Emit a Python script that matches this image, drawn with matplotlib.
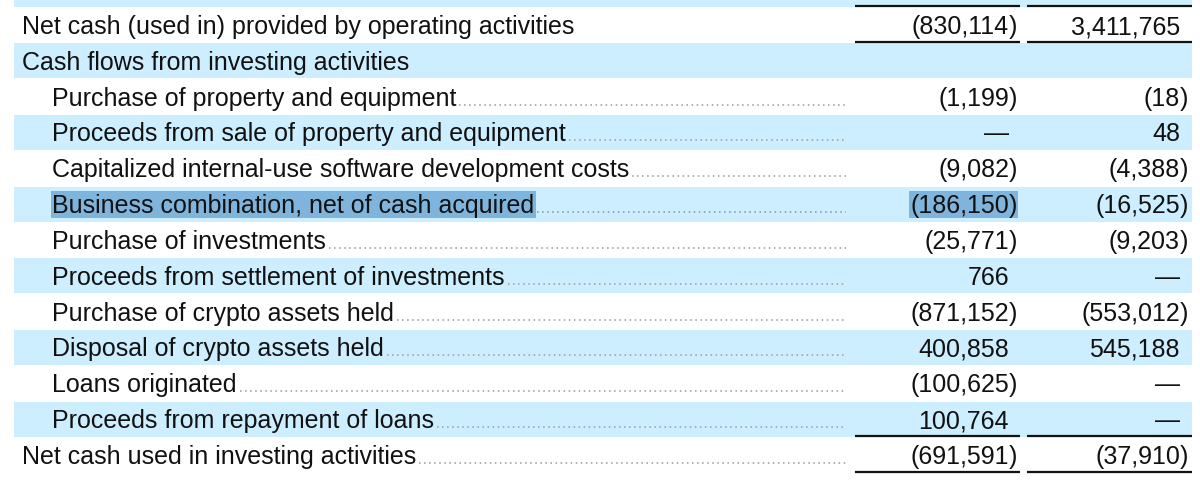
import matplotlib
matplotlib.use("Agg")

import matplotlib.pyplot as plt
from matplotlib.patches import Rectangle

plt.rcParams["font.family"] = ["Liberation Sans", "DejaVu Sans"]

labels = [
    "Net cash (used in) provided by operating activities",
    "Cash flows from investing activities",
    "Purchase of property and equipment",
    "Proceeds from sale of property and equipment",
    "Capitalized internal-use software development costs",
    "Business combination, net of cash acquired",
    "Purchase of investments",
    "Proceeds from settlement of investments",
    "Purchase of crypto assets held",
    "Disposal of crypto assets held",
    "Loans originated",
    "Proceeds from repayment of loans",
    "Net cash used in investing activities",
]
indent = [0, 0, 1, 1, 1, 1, 1, 1, 1, 1, 1, 1, 0]
col_2022 = ["(830,114)", "", "(1,199)", "—", "(9,082)", "(186,150)", "(25,771)",
            "766", "(871,152)", "400,858", "(100,625)", "100,764", "(691,591)"]
col_2021 = ["3,411,765", "", "(18)", "48", "(4,388)", "(16,525)", "(9,203)",
            "—", "(553,012)", "545,188", "—", "—", "(37,910)"]
leader = [False, False] + [True] * 11
underline_after = [0, 11, 12]
selected_row = 5

W, H = 1200, 487
fig = plt.figure(figsize=(W / 100, H / 100), dpi=100)
ax = fig.add_axes([0, 0, 1, 1])
ax.set_xlim(0, W)
ax.set_ylim(H, 0)
ax.axis("off")

row_h = 35.83
first_center = 25
band_x0, band_x1 = 14, 1192
band_color = "#cceeff"
sel_color = "#7fb5dc"
fs = 18
col_right = [1009, 1180]
col_span = [(855, 1020), (1027, 1192)]

def center(i):
    return first_center + i * row_h

# partial blue row at the very top
ax.add_patch(Rectangle((band_x0, center(-1) - row_h / 2), band_x1 - band_x0, row_h,
                       color=band_color, lw=0, zorder=0))
for i in range(len(labels)):
    if i % 2 == 1:
        ax.add_patch(Rectangle((band_x0, center(i) - row_h / 2 + 0.5), band_x1 - band_x0,
                               row_h - 1, color=band_color, lw=0, zorder=0))

# top rules of the previous total
for x0, x1 in col_span:
    ax.plot([x0, x1], [6, 6], color="#111111", lw=1.6, solid_capstyle="butt")

fig.canvas.draw()
renderer = fig.canvas.get_renderer()
inv = ax.transData.inverted()

for i, lab in enumerate(labels):
    cy = center(i)
    base = cy + 9
    x = 52 if indent[i] else 22
    t = ax.text(x, base, lab, fontsize=fs, ha="left", va="baseline", color="#111111", zorder=3)
    bb = t.get_window_extent(renderer)
    x_end = inv.transform((bb.x1, bb.y1))[0]
    if i == selected_row:
        ax.add_patch(Rectangle((x - 1, cy - 13), x_end - x + 3, 27, color=sel_color, lw=0, zorder=1))
    if leader[i]:
        ax.plot([x_end + 3, 846], [base - 1, base - 1],
                color="#7aa6cc" if i == selected_row else "#a8a8a8",
                lw=1.3, linestyle=(0, (0.85, 1.95)), zorder=2)

    for c, vals in enumerate([col_2022, col_2021]):
        v = vals[i]
        if not v:
            continue
        xr = col_right[c]
        if v.startswith("("):
            tn = ax.text(xr, base, v[:-1], fontsize=fs, ha="right", va="baseline",
                         color="#111111", zorder=3)
            tp = ax.text(xr, base, ")", fontsize=fs, ha="left", va="baseline",
                         color="#111111", zorder=3)
            if i == selected_row and c == 0:
                b0 = tn.get_window_extent(renderer)
                b1 = tp.get_window_extent(renderer)
                xa = inv.transform((b0.x0, b0.y0))[0]
                xb = inv.transform((b1.x1, b1.y0))[0]
                ax.add_patch(Rectangle((xa - 1, cy - 13), xb - xa + 2, 27,
                                       color=sel_color, lw=0, zorder=1))
        else:
            ax.text(xr, base, v, fontsize=fs, ha="right", va="baseline",
                    color="#111111", zorder=3)

    if i in underline_after:
        yl = cy + row_h / 2 - 1
        for x0, x1 in col_span:
            ax.plot([x0, x1], [yl, yl], color="#111111", lw=1.6, solid_capstyle="butt")

plt.savefig("out.png", dpi=100)
plt.close()
